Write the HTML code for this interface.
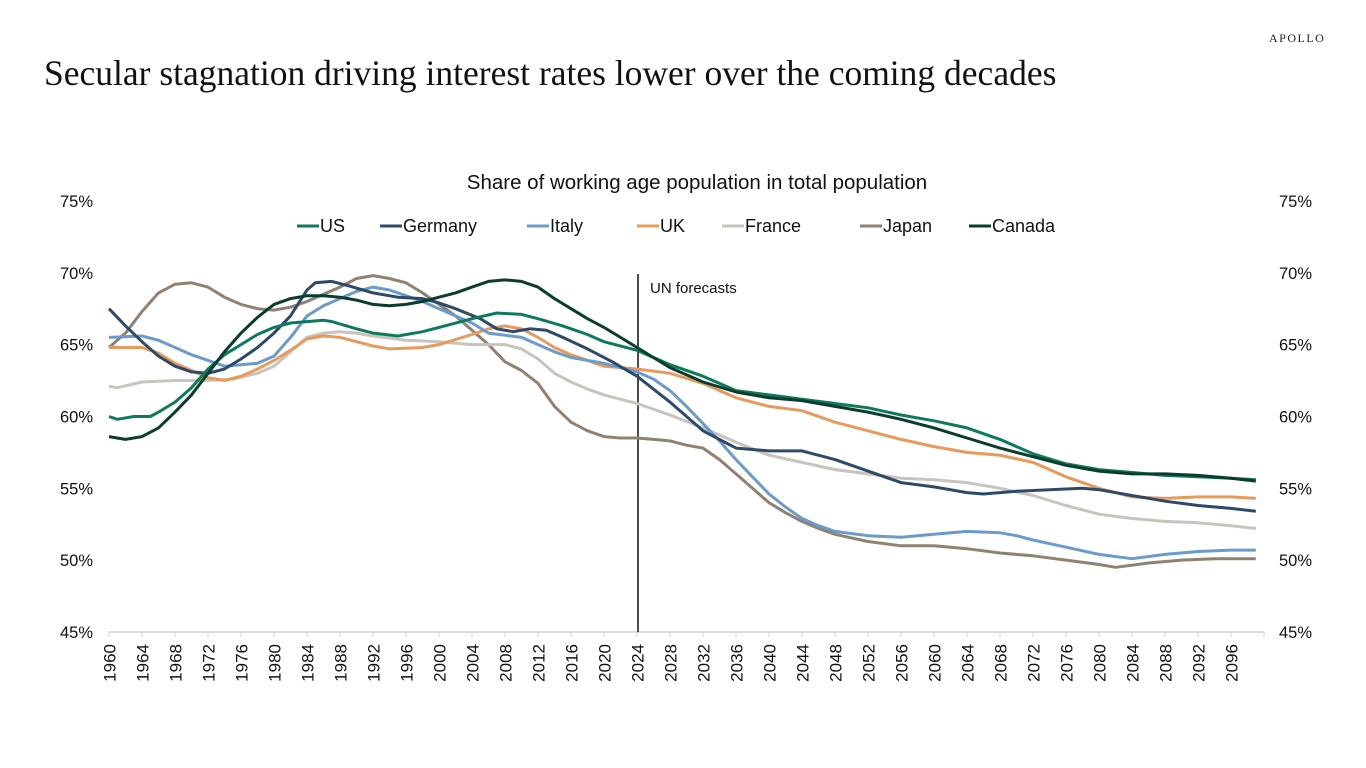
<!DOCTYPE html>
<html><head><meta charset="utf-8"><style>
body{margin:0;background:#fff;width:1366px;height:768px;overflow:hidden;position:relative;font-family:"Liberation Sans",Arial,sans-serif}
.t{position:absolute;left:44px;top:52px;font-family:"Liberation Serif",serif;font-size:35.5px;color:#111;white-space:nowrap}
.ap{position:absolute;left:1269px;top:31px;font-family:"Liberation Serif",serif;font-size:12px;letter-spacing:1.5px;color:#222}
</style></head><body>
<div class="t">Secular stagnation driving interest rates lower over the coming decades</div>
<div class="ap">APOLLO</div>
<svg id="s" width="1366" height="768" style="position:absolute;left:0;top:0" font-family="Liberation Sans, Arial, sans-serif"></svg>
<script>
const S=document.getElementById('s');let h='';
const X=y=>109+8.25*(y-1960),Y=v=>632-(v-45)*14.37;
h+=`<text x="697" y="189" font-size="20.5" text-anchor="middle" fill="#111">Share of working age population in total population</text>`;
for(let v=45;v<=75;v+=5){h+=`<text x="93" y="${Y(v)+6}" font-size="16.5" text-anchor="end" fill="#111">${v}%</text><text x="1279" y="${Y(v)+6}" font-size="16.5" fill="#111">${v}%</text>`;}
h+=`<line x1="109" y1="632" x2="1264" y2="632" stroke="#d0d0d0" stroke-width="1.5"/>`;
for(let y=1960;y<=2100;y+=4){const x=X(y);h+=`<line x1="${x}" y1="632" x2="${x}" y2="637" stroke="#d0d0d0"/>`;if(y<2100)h+=`<text transform="translate(${x+6.5},644) rotate(-90)" font-size="17" text-anchor="end" fill="#111">${y}</text>`;}
h+=`<line x1="638" y1="274" x2="638" y2="632" stroke="#111" stroke-width="1.5"/><text x="650" y="293" font-size="15" fill="#111">UN forecasts</text>`;
const D={
Japan:['#8f8272',[1960,64.8,1962,65.8,1964,67.3,1966,68.6,1968,69.2,1970,69.3,1972,69.0,1974,68.3,1976,67.8,1978,67.5,1980,67.4,1982,67.6,1984,68.0,1986,68.5,1988,69.0,1990,69.6,1992,69.8,1994,69.6,1996,69.3,1998,68.6,2000,67.8,2002,67.0,2004,66.0,2006,65.0,2008,63.8,2010,63.2,2012,62.3,2014,60.7,2016,59.6,2018,59.0,2020,58.6,2022,58.5,2024,58.5,2026,58.4,2028,58.3,2030,58.0,2032,57.8,2034,57.0,2036,56.0,2038,55.0,2040,54.0,2042,53.3,2044,52.7,2046,52.2,2048,51.8,2052,51.3,2056,51.0,2060,51.0,2064,50.8,2068,50.5,2072,50.3,2076,50.0,2080,49.7,2082,49.5,2086,49.8,2090,50.0,2094,50.1,2099,50.1]],
France:['#c8c3bc',[1960,62.1,1961,62.0,1964,62.4,1968,62.5,1972,62.5,1975,62.6,1978,63.0,1980,63.5,1982,64.5,1984,65.5,1986,65.8,1988,65.9,1990,65.8,1992,65.6,1996,65.3,2000,65.2,2004,65.0,2008,65.0,2010,64.7,2012,64.0,2014,63.0,2016,62.4,2018,61.9,2020,61.5,2024,60.9,2028,60.1,2032,59.2,2036,58.2,2040,57.3,2044,56.8,2048,56.3,2052,56.0,2056,55.7,2060,55.6,2064,55.4,2068,55.0,2072,54.5,2076,53.8,2080,53.2,2084,52.9,2088,52.7,2092,52.6,2096,52.4,2099,52.2]],
UK:['#e89a5c',[1960,64.8,1964,64.8,1966,64.4,1968,63.7,1970,63.2,1972,62.7,1974,62.5,1976,62.8,1978,63.3,1980,63.9,1982,64.6,1984,65.4,1986,65.6,1988,65.5,1990,65.2,1992,64.9,1994,64.7,1998,64.8,2000,65.0,2004,65.7,2006,66.1,2008,66.3,2010,66.1,2012,65.5,2014,64.8,2016,64.3,2018,63.9,2020,63.5,2024,63.3,2028,63.0,2032,62.3,2036,61.3,2040,60.7,2044,60.4,2048,59.6,2052,59.0,2056,58.4,2060,57.9,2064,57.5,2068,57.3,2072,56.8,2076,55.8,2080,55.0,2084,54.4,2088,54.3,2092,54.4,2096,54.4,2099,54.3]],
Italy:['#6a9bcc',[1960,65.5,1964,65.6,1966,65.3,1968,64.8,1970,64.3,1972,63.9,1974,63.5,1978,63.7,1980,64.2,1982,65.5,1984,67.0,1986,67.7,1988,68.2,1990,68.7,1992,69.0,1994,68.8,1996,68.4,1998,68.0,2000,67.5,2002,67.0,2004,66.5,2006,65.8,2010,65.5,2012,65.0,2014,64.5,2016,64.1,2020,63.7,2024,63.1,2026,62.6,2028,61.8,2030,60.7,2032,59.5,2034,58.3,2036,57.0,2038,55.8,2040,54.6,2042,53.7,2044,52.9,2046,52.4,2048,52.0,2052,51.7,2056,51.6,2060,51.8,2064,52.0,2068,51.9,2070,51.7,2072,51.4,2076,50.9,2080,50.4,2084,50.1,2088,50.4,2092,50.6,2096,50.7,2099,50.7]],
Germany:['#2e4a6b',[1960,67.5,1962,66.3,1964,65.2,1966,64.2,1968,63.5,1970,63.1,1972,63.0,1974,63.3,1976,64.0,1978,64.8,1980,65.8,1982,67.0,1984,68.8,1985,69.3,1987,69.4,1989,69.1,1992,68.6,1995,68.3,1998,68.2,2000,67.9,2002,67.5,2005,66.8,2007,66.1,2009,65.9,2011,66.1,2013,66.0,2015,65.5,2018,64.7,2021,63.8,2024,62.8,2028,61.0,2032,59.0,2036,57.8,2040,57.6,2044,57.6,2048,57.0,2052,56.2,2056,55.4,2060,55.1,2064,54.7,2066,54.6,2070,54.8,2074,54.9,2078,55.0,2080,54.9,2084,54.5,2088,54.1,2092,53.8,2096,53.6,2099,53.4]],
US:['#0e7a5c',[1960,60.0,1961,59.8,1963,60.0,1965,60.0,1966,60.3,1968,61,1970,62,1972,63.3,1974,64.3,1976,65.0,1978,65.7,1980,66.2,1982,66.5,1984,66.6,1986,66.7,1987,66.6,1990,66.1,1992,65.8,1995,65.6,1998,65.9,2000,66.2,2004,66.8,2007,67.2,2010,67.1,2012,66.8,2015,66.3,2018,65.7,2020,65.2,2024,64.6,2028,63.6,2032,62.8,2036,61.8,2040,61.5,2044,61.2,2048,60.9,2052,60.6,2056,60.1,2060,59.7,2064,59.2,2068,58.4,2072,57.4,2076,56.7,2080,56.3,2084,56.1,2088,55.9,2092,55.8,2096,55.7,2099,55.6]],
Canada:['#0b3d2e',[1960,58.6,1962,58.4,1964,58.6,1966,59.2,1968,60.3,1970,61.5,1972,63.0,1974,64.5,1976,65.8,1978,66.9,1980,67.8,1982,68.2,1984,68.4,1986,68.4,1988,68.3,1990,68.1,1992,67.8,1994,67.7,1996,67.8,1998,68.0,2000,68.3,2002,68.6,2004,69.0,2006,69.4,2008,69.5,2010,69.4,2012,69.0,2014,68.2,2016,67.5,2018,66.8,2020,66.2,2022,65.5,2024,64.8,2028,63.4,2032,62.4,2036,61.7,2040,61.3,2044,61.1,2048,60.7,2052,60.3,2056,59.8,2060,59.2,2064,58.5,2068,57.8,2072,57.2,2076,56.6,2080,56.2,2084,56.0,2088,56.0,2092,55.9,2096,55.7,2099,55.5]]};
for(const k in D){const [c,a]=D[k];let p=[];for(let i=0;i<a.length;i+=2)p.push(X(a[i]).toFixed(1)+','+Y(a[i+1]).toFixed(1));h+=`<polyline points="${p.join(' ')}" fill="none" stroke="${c}" stroke-width="3" stroke-linejoin="round"/>`;}
const L=[['US','#0e7a5c',297],['Germany','#2e4a6b',380],['Italy','#6a9bcc',527],['UK','#e89a5c',637],['France','#c8c3bc',722],['Japan','#8f8272',860],['Canada','#0b3d2e',969]];
for(const [n,c,x] of L){h+=`<line x1="${x}" y1="226" x2="${x+22}" y2="226" stroke="${c}" stroke-width="3"/><text x="${x+23}" y="232" font-size="18" fill="#111">${n}</text>`;}
S.innerHTML=h;
</script>
</body></html>
